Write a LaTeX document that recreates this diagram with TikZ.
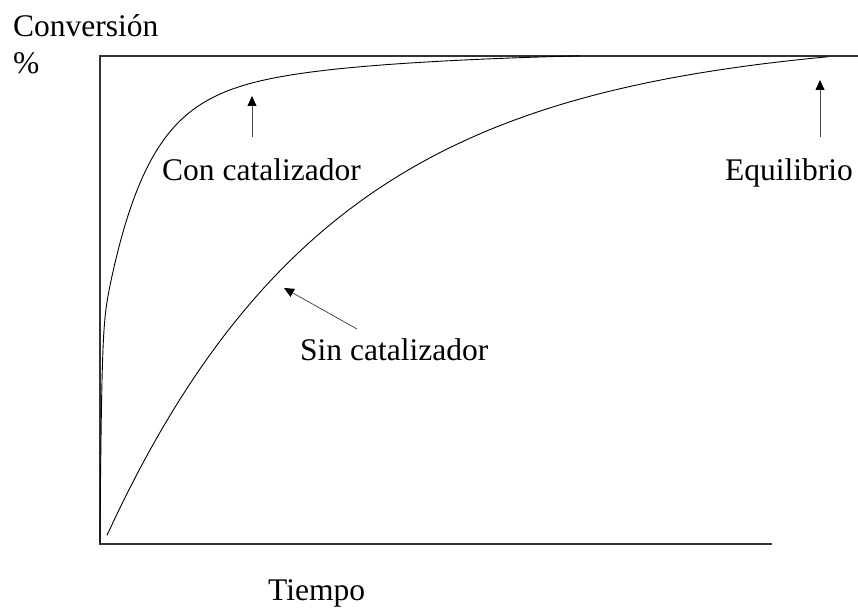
\documentclass[tikz,border=0pt]{standalone}
\usepackage{fontspec}
\setmainfont{Liberation Serif}
\usetikzlibrary{arrows.meta}
\begin{document}
\begin{tikzpicture}[x=1pt,y=-1pt,
  lbl/.style={inner sep=0pt, font=\fontsize{31.5}{36}\selectfont, anchor=base west},
  axisline/.style={line width=1.4pt, draw=black!80},
  curve/.style={line width=0.9pt, draw=black, line join=round},
  pointer/.style={line width=0.8pt, draw=black!70, -{Triangle[length=10pt,width=9pt,color=black,fill=black]}}]
\useasboundingbox (0,0) rectangle (858,607);
% axes
\coordinate (tl) at (100,56);
\coordinate (tr) at (858,56);
\coordinate (bl) at (100,544);
\coordinate (br) at (772,544);
\draw[axisline] (tr) -- (tl) -- (bl) -- (br);
% curves
\draw[curve] plot[domain=0:12, samples=80] ({100+\x}, {544-205*(1-exp(-\x/1.5))-230*(1-exp(-\x/40))-58.5*(1-exp(-\x/200))})
  -- plot[domain=12:480, samples=200] ({100+\x}, {544-205-230*(1-exp(-\x/40))-58.5*(1-exp(-\x/200))});
\draw[curve] plot[domain=7:728, samples=200] ({100+\x}, {544-509*(1-exp(-(\x-3)/230))});
% labels
\node[lbl] (conv) at (13,37) {Conversión};
\node[lbl] (pct) at (13,74) {\%};
\node[lbl] (con) at (162,180) {Con catalizador};
\node[lbl] (eq) at (725,180) {Equilibrio};
\node[lbl] (sin) at (300,360) {Sin catalizador};
\node[lbl] (tiempo) at (268,600) {Tiempo};
% pointers
\coordinate (conA) at (252,137);
\coordinate (conB) at (252,96);
\coordinate (eqA) at (820,137);
\coordinate (eqB) at (820,80);
\coordinate (sinA) at (357,329);
\coordinate (sinB) at (284,288);
\draw[pointer] (conA) -- (conB);
\draw[pointer] (eqA) -- (eqB);
\draw[pointer] (sinA) -- (sinB);
\end{tikzpicture}
\end{document}
